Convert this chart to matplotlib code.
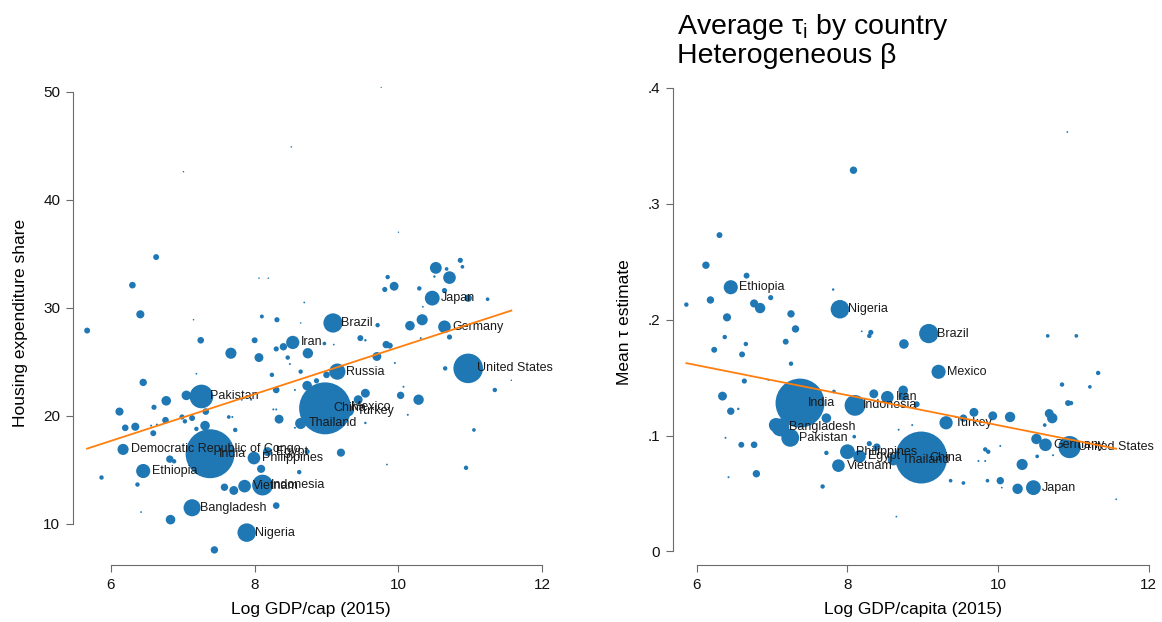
import numpy as np
import matplotlib
matplotlib.use("Agg")
import matplotlib.pyplot as plt

plt.rcParams['font.family'] = ['Liberation Sans', 'DejaVu Sans']
plt.rcParams['mathtext.default'] = 'regular'
plt.rcParams['mathtext.fontset'] = 'custom'
plt.rcParams['mathtext.rm'] = 'Liberation Sans'
plt.rcParams['mathtext.it'] = 'Liberation Sans'

## housing expenditure share vs log GDP/cap, labelled countries
house_names = ['Democratic Republic of Congo', 'India', 'Ethiopia', 'Pakistan', 'Iran',
               'Brazil', 'Japan', 'Germany', 'United States', 'Russia', 'China', 'Mexico',
               'Turkey', 'Thailand', 'Philippines', 'Egypt', 'Vietnam', 'Indonesia',
               'Bangladesh', 'Nigeria']
house_gdp = [6.17, 7.38, 6.45, 7.26, 8.53, 9.09, 10.47, 10.64, 10.97, 9.15, 8.98, 9.22,
             9.30, 8.64, 7.99, 8.18, 7.86, 8.11, 7.13, 7.89]
house_share = [16.9, 16.5, 14.9, 21.8, 26.8, 28.6, 30.9, 28.25, 24.4, 24.1, 20.7, 20.8,
               20.5, 19.3, 16.1, 16.7, 13.5, 13.6, 11.5, 9.2]
house_wt = [31, 600, 50, 140, 44, 93, 55, 40, 219, 66, 676, 40, 35, 31, 40, 20, 40, 108, 73, 86]

## housing panel, the rest
house_gdp_oth = [5.67, 7.01, 8.51, 9.76, 6.63, 6.30, 6.41, 7.25, 8.06, 8.19, 8.69, 8.64, 8.10,
                 8.31, 8.00, 7.15, 10.00, 9.85, 9.94, 9.81, 10.29, 10.52, 10.71, 10.67, 10.50,
                 10.86, 10.89, 10.64, 10.97, 11.24, 10.34, 10.33, 10.16, 10.71, 10.31, 9.71,
                 9.47, 9.54, 8.97, 9.10, 8.40, 8.30, 8.74, 7.67, 8.06, 9.83, 9.88, 9.70, 9.95,
                 10.65, 11.34, 11.57, 7.19, 6.45, 8.24, 8.64, 8.86, 9.00, 8.46, 8.49, 8.30,
                 8.56, 8.73, 7.05, 6.77, 7.32, 7.82, 7.95, 6.12, 6.60, 9.54, 9.44, 10.03, 10.28,
                 10.07, 10.13, 11.05, 8.26, 8.30, 8.34, 8.56, 9.54, 7.64, 7.69, 6.99, 7.13,
                 7.03, 6.76, 6.64, 6.56, 6.20, 6.34, 7.31, 7.73, 6.59, 7.19, 6.82, 6.88, 8.73,
                 9.20, 8.09, 8.62, 5.87, 6.37, 7.58, 7.71, 8.30, 6.42, 6.83, 7.44, 9.84, 10.94]
house_share_oth = [27.9, 42.6, 44.9, 50.4, 34.7, 32.1, 29.4, 27.0, 32.75, 32.75, 30.5, 28.6,
                   29.2, 28.9, 27.0, 28.9, 37.0, 32.85, 32.0, 31.7, 31.8, 33.7, 32.8, 33.6,
                   32.9, 34.4, 33.8, 31.6, 30.9, 30.8, 30.1, 28.9, 28.35, 27.3, 27.2, 28.4,
                   27.2, 27.0, 26.7, 26.6, 26.4, 26.2, 25.8, 25.8, 25.4, 26.6, 26.5, 25.5,
                   24.9, 24.4, 22.4, 23.3, 23.9, 23.1, 23.8, 24.1, 23.25, 23.8, 25.4, 24.8,
                   22.4, 22.4, 22.8, 21.9, 21.4, 20.4, 21.5, 21.5, 20.4, 20.8, 22.1, 21.5,
                   21.9, 21.5, 22.7, 20.1, 18.7, 20.6, 20.6, 19.7, 18.9, 19.35, 19.9, 19.9,
                   19.9, 19.8, 19.5, 19.6, 19.2, 19.1, 18.9, 19.0, 19.1, 18.7, 18.4, 18.8,
                   16.0, 15.8, 16.7, 16.6, 15.1, 14.8, 14.3, 13.65, 13.4, 13.1, 11.7, 11.1,
                   10.4, 7.6, 15.5, 15.2]
house_wt_oth = [8.8, 0.6, 0.6, 0.4, 8.8, 11, 16.6, 11, 0.6, 0.6, 0.8, 0.6, 4, 6.7, 8.8, 0.6,
                0.5, 4.9, 19.8, 6.7, 4.9, 35, 40, 3.4, 1.5, 6.7, 3.4, 6.7, 13.7, 3.4, 0.8, 31,
                23, 6.7, 1, 4.9, 8.8, 1.5, 3.4, 0.8, 13.7, 6.7, 27, 31, 19.8, 13.7, 8.8, 19.8,
                1, 4.9, 4.9, 0.6, 0.8, 13.7, 4.9, 4.9, 6.7, 11, 4.9, 1, 11, 1, 23, 23, 23, 11,
                1, 1, 16.6, 6.7, 19.8, 19.8, 13.7, 27, 1, 1, 3.4, 1, 1, 19.8, 1, 1.5, 3.4, 1,
                6.7, 8.8, 4.9, 11, 1, 1, 11, 16.6, 23, 4.9, 8.8, 4.9, 13.7, 4.9, 6.7, 16.6,
                16.6, 4.9, 4.9, 4.9, 13.7, 19.8, 11, 0.8, 23, 13.7, 0.8, 4.9]
house_fit = (4.69, 2.166)   # intercept, slope

## mean tau estimate vs log GDP/capita, labelled countries
tau_names = ['Ethiopia', 'Nigeria', 'Brazil', 'Mexico', 'India', 'Iran', 'Indonesia', 'Turkey',
             'Bangladesh', 'Pakistan', 'Philippines', 'Egypt', 'Vietnam', 'Thailand', 'China',
             'Germany', 'United States', 'Japan']
tau_gdp = [6.45, 7.90, 9.08, 9.21, 7.37, 8.53, 8.10, 9.31, 7.11, 7.24, 8.00, 8.16, 7.88, 8.61,
           8.98, 10.63, 10.95, 10.47]
tau_mean = [0.228, 0.209, 0.188, 0.155, 0.128, 0.133, 0.126, 0.111, 0.107, 0.098, 0.086, 0.082,
            0.074, 0.079, 0.081, 0.092, 0.090, 0.055]
tau_wt = [50, 86, 93, 50, 600, 40, 108, 44, 80, 80, 55, 40, 40, 31, 676, 40, 123, 55]

## tau panel, the rest
tau_gdp_oth = [10.92, 8.08, 6.30, 6.12, 6.66, 7.81, 6.98, 6.18, 5.86, 6.76, 6.84, 7.25, 6.40,
               7.31, 8.31, 8.29, 8.19, 8.75, 7.18, 6.65, 6.37, 6.23, 6.60, 7.25, 10.66, 11.04,
               11.33, 6.63, 6.95, 10.85, 11.22, 6.34, 7.82, 8.35, 8.74, 8.74, 8.92, 6.45, 6.55,
               7.72, 9.68, 9.93, 10.16, 9.54, 10.68, 10.72, 10.93, 10.97, 10.62, 7.05, 10.51,
               10.73, 10.52, 10.32, 10.26, 10.03, 10.05, 10.03, 9.83, 9.87, 9.74, 9.83, 9.86,
               9.37, 9.54, 11.57, 8.65, 8.39, 8.29, 7.72, 8.09, 8.68, 8.86, 6.59, 6.76, 6.38,
               6.79, 6.42, 7.67]
tau_mean_oth = [0.362, 0.329, 0.273, 0.247, 0.238, 0.226, 0.219, 0.217, 0.213, 0.214, 0.210,
                0.205, 0.202, 0.192, 0.189, 0.186, 0.190, 0.179, 0.181, 0.179, 0.185, 0.174,
                0.170, 0.162, 0.186, 0.186, 0.154, 0.147, 0.148, 0.144, 0.142, 0.134, 0.138,
                0.136, 0.139, 0.134, 0.127, 0.121, 0.123, 0.115, 0.120, 0.117, 0.116, 0.115,
                0.119, 0.115, 0.128, 0.128, 0.109, 0.109, 0.097, 0.083, 0.082, 0.075, 0.054,
                0.061, 0.055, 0.091, 0.088, 0.086, 0.078, 0.078, 0.061, 0.061, 0.059, 0.045,
                0.030, 0.090, 0.093, 0.085, 0.099, 0.105, 0.109, 0.092, 0.092, 0.098, 0.067,
                0.064, 0.056]
tau_wt_oth = [0.8, 13.7, 8.8, 13.7, 8.8, 1.5, 6.7, 13.7, 4.9, 16.6, 27, 13.7, 16.6, 13.7, 6.7,
              4.9, 0.8, 23, 8.8, 4.9, 4.9, 8.8, 8.8, 4.9, 3.4, 3.4, 4.9, 6.7, 1, 4.9, 3.4,
              19.8, 3.4, 19.8, 23, 19.8, 8.8, 13.7, 1.5, 23, 19.8, 19.8, 27, 13.7, 19.8, 27,
              8.8, 4.9, 3.4, 50, 27, 1, 3.4, 31, 27, 13.7, 0.8, 1, 4.9, 4.9, 1, 1, 3.4, 3.4,
              3.4, 0.8, 0.8, 13.7, 6.7, 4.9, 3.4, 1, 1, 8.8, 11, 1, 13.7, 1, 4.9]
tau_fit = (0.2383, -0.01294)   # intercept, slope

dot_col = '#1f77b4'
fit_col = '#ff7f0e'
axis_col = '#6b6b6b'
size_k = 2.07   # weight -> marker area (pt^2)


def panel(ax, names, x, y, w, x_o, y_o, w_o, fit):
    xa = np.concatenate([x, x_o])
    ya = np.concatenate([y, y_o])
    wa = np.concatenate([w, w_o])
    ax.scatter(xa, ya, s=size_k * wa, c=dot_col, edgecolors='none', zorder=2)
    for n, xi, yi in zip(names, x, y):
        ax.annotate(n, (xi, yi), xytext=(6, 0), textcoords='offset points',
                    ha='left', va='center', fontsize=9, color='#1a1a1a', zorder=3)
    fx = np.array([xa.min(), xa.max()])
    ax.plot(fx, fit[0] + fit[1] * fx, color=fit_col, lw=1.3, zorder=4)

    for s in ['top', 'right']:
        ax.spines[s].set_visible(False)
    for s in ['left', 'bottom']:
        ax.spines[s].set_color(axis_col)
        ax.spines[s].set_linewidth(0.8)
    ax.tick_params(direction='out', length=5, width=0.8, color=axis_col,
                   labelsize=11, pad=4, labelcolor='#111111')
    ax.set_xticks([6, 8, 10, 12])
    ax.spines['bottom'].set_bounds(6, 12)


fig = plt.figure(figsize=(11.62, 6.22), dpi=100)
ax1 = fig.add_axes([0.0626, 0.0916, 0.409, 0.780])
ax2 = fig.add_axes([0.579, 0.0916, 0.414, 0.780])

panel(ax1, house_names, house_gdp, house_share, house_wt,
      house_gdp_oth, house_share_oth, house_wt_oth, house_fit)
ax1.set_xlim(5.47, 12.08)
ax1.set_ylim(6.2, 51.1)
ax1.set_yticks([10, 20, 30, 40, 50])
ax1.spines['left'].set_bounds(10, 50)
ax1.set_xlabel('Log GDP/cap (2015)', fontsize=12.5, labelpad=7.5)
ax1.set_ylabel('Housing expenditure share', fontsize=12.5, labelpad=11)

panel(ax2, tau_names, tau_gdp, tau_mean, tau_wt,
      tau_gdp_oth, tau_mean_oth, tau_wt_oth, tau_fit)
ax2.set_xlim(5.68, 12.07)
ax2.set_ylim(-0.0118, 0.407)
ax2.set_yticks([0, 0.1, 0.2, 0.3, 0.4])
ax2.set_yticklabels(['0', '.1', '.2', '.3', '.4'])
ax2.spines['left'].set_bounds(0, 0.4)
ax2.set_xlabel('Log GDP/capita (2015)', fontsize=12.5, labelpad=7.5)
ax2.set_ylabel('Mean τ estimate', fontsize=12.5, labelpad=11)

fig.text(677 / 1162, 1 - 34 / 622, 'Average τ$_{i}$ by country', fontsize=20.5,
         ha='left', va='baseline')
fig.text(677 / 1162, 1 - 63 / 622, 'Heterogeneous β', fontsize=20.5,
         ha='left', va='baseline')

fig.savefig('out.png', dpi=100)
